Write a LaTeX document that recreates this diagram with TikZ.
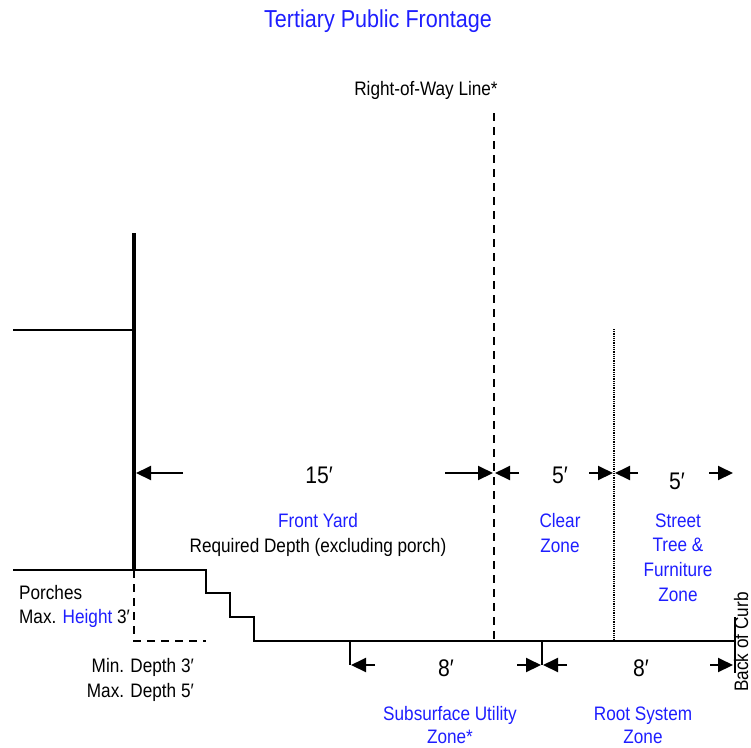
\documentclass[tikz,border=0pt]{standalone}
\usepackage{fontspec}
\setmainfont[FakeStretch=0.88]{Liberation Sans}
\usetikzlibrary{arrows.meta}
\definecolor{zoneblue}{RGB}{30,30,255}
\tikzset{
  lbl/.style={inner sep=0pt, anchor=base, font=\fontsize{19.5}{23}\selectfont},
  bl/.style={lbl, text=zoneblue},
  dim/.style={lbl, font=\fontsize{24}{28}\selectfont},
  thinline/.style={line width=1.8pt},
  dashline/.style={line width=2pt, dash pattern=on 8pt off 6pt},
  dotline/.style={line width=1.6pt, dash pattern=on 1pt off 0.8pt},
  dimarrow/.style={line width=2pt, -{Triangle[length=15pt,width=14pt]}}
}
\begin{document}
\begin{tikzpicture}[x=1pt,y=-1pt]
\useasboundingbox (0,0) rectangle (751,747);
% coordinates
\coordinate (facadeTop) at (134,233);
\coordinate (facadeMid) at (134,330);
\coordinate (facadeBot) at (134,570);
\coordinate (wallL) at (13,330);
\coordinate (groundL) at (13,570);
\coordinate (s1) at (206,570);
\coordinate (s2) at (206,593);
\coordinate (s3) at (230,593);
\coordinate (s4) at (230,617);
\coordinate (s5) at (254,617);
\coordinate (s6) at (254,641);
\coordinate (curbB) at (735,641);
\coordinate (porchB) at (134,641);
\coordinate (porchR) at (206,641);
\coordinate (rowT) at (494,113);
\coordinate (rowB) at (494,641);
\coordinate (treeT) at (614,329);
\coordinate (treeB) at (614,641);
\coordinate (curbT) at (735,617);
\coordinate (curbE) at (735,673);
\coordinate (t1T) at (350,641);
\coordinate (t1B) at (350,665);
\coordinate (t2T) at (542,641);
\coordinate (t2B) at (542,665);
% arrow end points
\coordinate (a1s) at (183,473); \coordinate (a1e) at (136,473);
\coordinate (a2s) at (445,473); \coordinate (a2e) at (493,473);
\coordinate (a3s) at (519,473); \coordinate (a3e) at (495,473);
\coordinate (a4s) at (589,473); \coordinate (a4e) at (613,473);
\coordinate (a5s) at (638,473); \coordinate (a5e) at (615,473);
\coordinate (a6s) at (709,473); \coordinate (a6e) at (733,473);
\coordinate (b1s) at (375,665); \coordinate (b1e) at (351,665);
\coordinate (b2s) at (517,665); \coordinate (b2e) at (541,665);
\coordinate (b3s) at (567,665); \coordinate (b3e) at (543,665);
\coordinate (b4s) at (710,665); \coordinate (b4e) at (733,665);

% lines
\draw[line width=4.5pt] (facadeTop) -- (facadeBot);
\draw[thinline] (wallL) -- (facadeMid);
\draw[thinline] (groundL) -- (s1) -- (s2) -- (s3) -- (s4) -- (s5) -- (s6) -- (curbB);
\draw[dashline] (facadeBot) -- (porchB) -- (porchR);
\draw[dashline] (rowT) -- (rowB);
\draw[dotline] (treeT) -- (treeB);
\draw[thinline] (curbT) -- (curbE);
\draw[thinline] (t1T) -- (t1B);
\draw[thinline] (t2T) -- (t2B);

% dimension arrows
\foreach \n in {a1,a2,a3,a4,a5,a6,b1,b2,b3,b4}
  \draw[dimarrow] (\n s) -- (\n e);

% texts
\node[bl, font=\fontsize{24.5}{28}\selectfont] (title) at (378,27) {Tertiary Public Frontage};
\node[lbl] (rowlbl) at (426,95) {Right-of-Way Line*};
\node[dim] (d15) at (319,483) {15′};
\node[dim] (d5a) at (560,483) {5′};
\node[dim] (d5b) at (677,489) {5′};
\node[bl] (fy) at (318,527) {Front Yard};
\node[lbl] (req) at (318,552) {Required Depth (excluding porch)};
\node[bl] (clear1) at (560,527) {Clear};
\node[bl] (clear2) at (560,552) {Zone};
\node[bl] (st1) at (678,527) {Street};
\node[bl] (st2) at (678,551) {Tree \&};
\node[bl] (st3) at (678,576) {Furniture};
\node[bl] (st4) at (678,601) {Zone};
\node[lbl, anchor=base west] (por1) at (19,599) {Porches};
\node[lbl, anchor=base west] (por2) at (19,623) {Max. {\color{zoneblue}Height} 3′};
\node[lbl, anchor=base east] (min1) at (194,672) {Min. Depth 3′};
\node[lbl, anchor=base east] (max1) at (194,697) {Max. Depth 5′};
\node[dim] (d8a) at (446,676) {8′};
\node[dim] (d8b) at (641,676) {8′};
\node[bl] (su1) at (450,720) {Subsurface Utility};
\node[bl] (su2) at (450,743) {Zone*};
\node[bl] (rs1) at (643,720) {Root System};
\node[bl] (rs2) at (643,743) {Zone};
\node[lbl, rotate=90] (curb) at (748,642) {Back of Curb};
\end{tikzpicture}
\end{document}
